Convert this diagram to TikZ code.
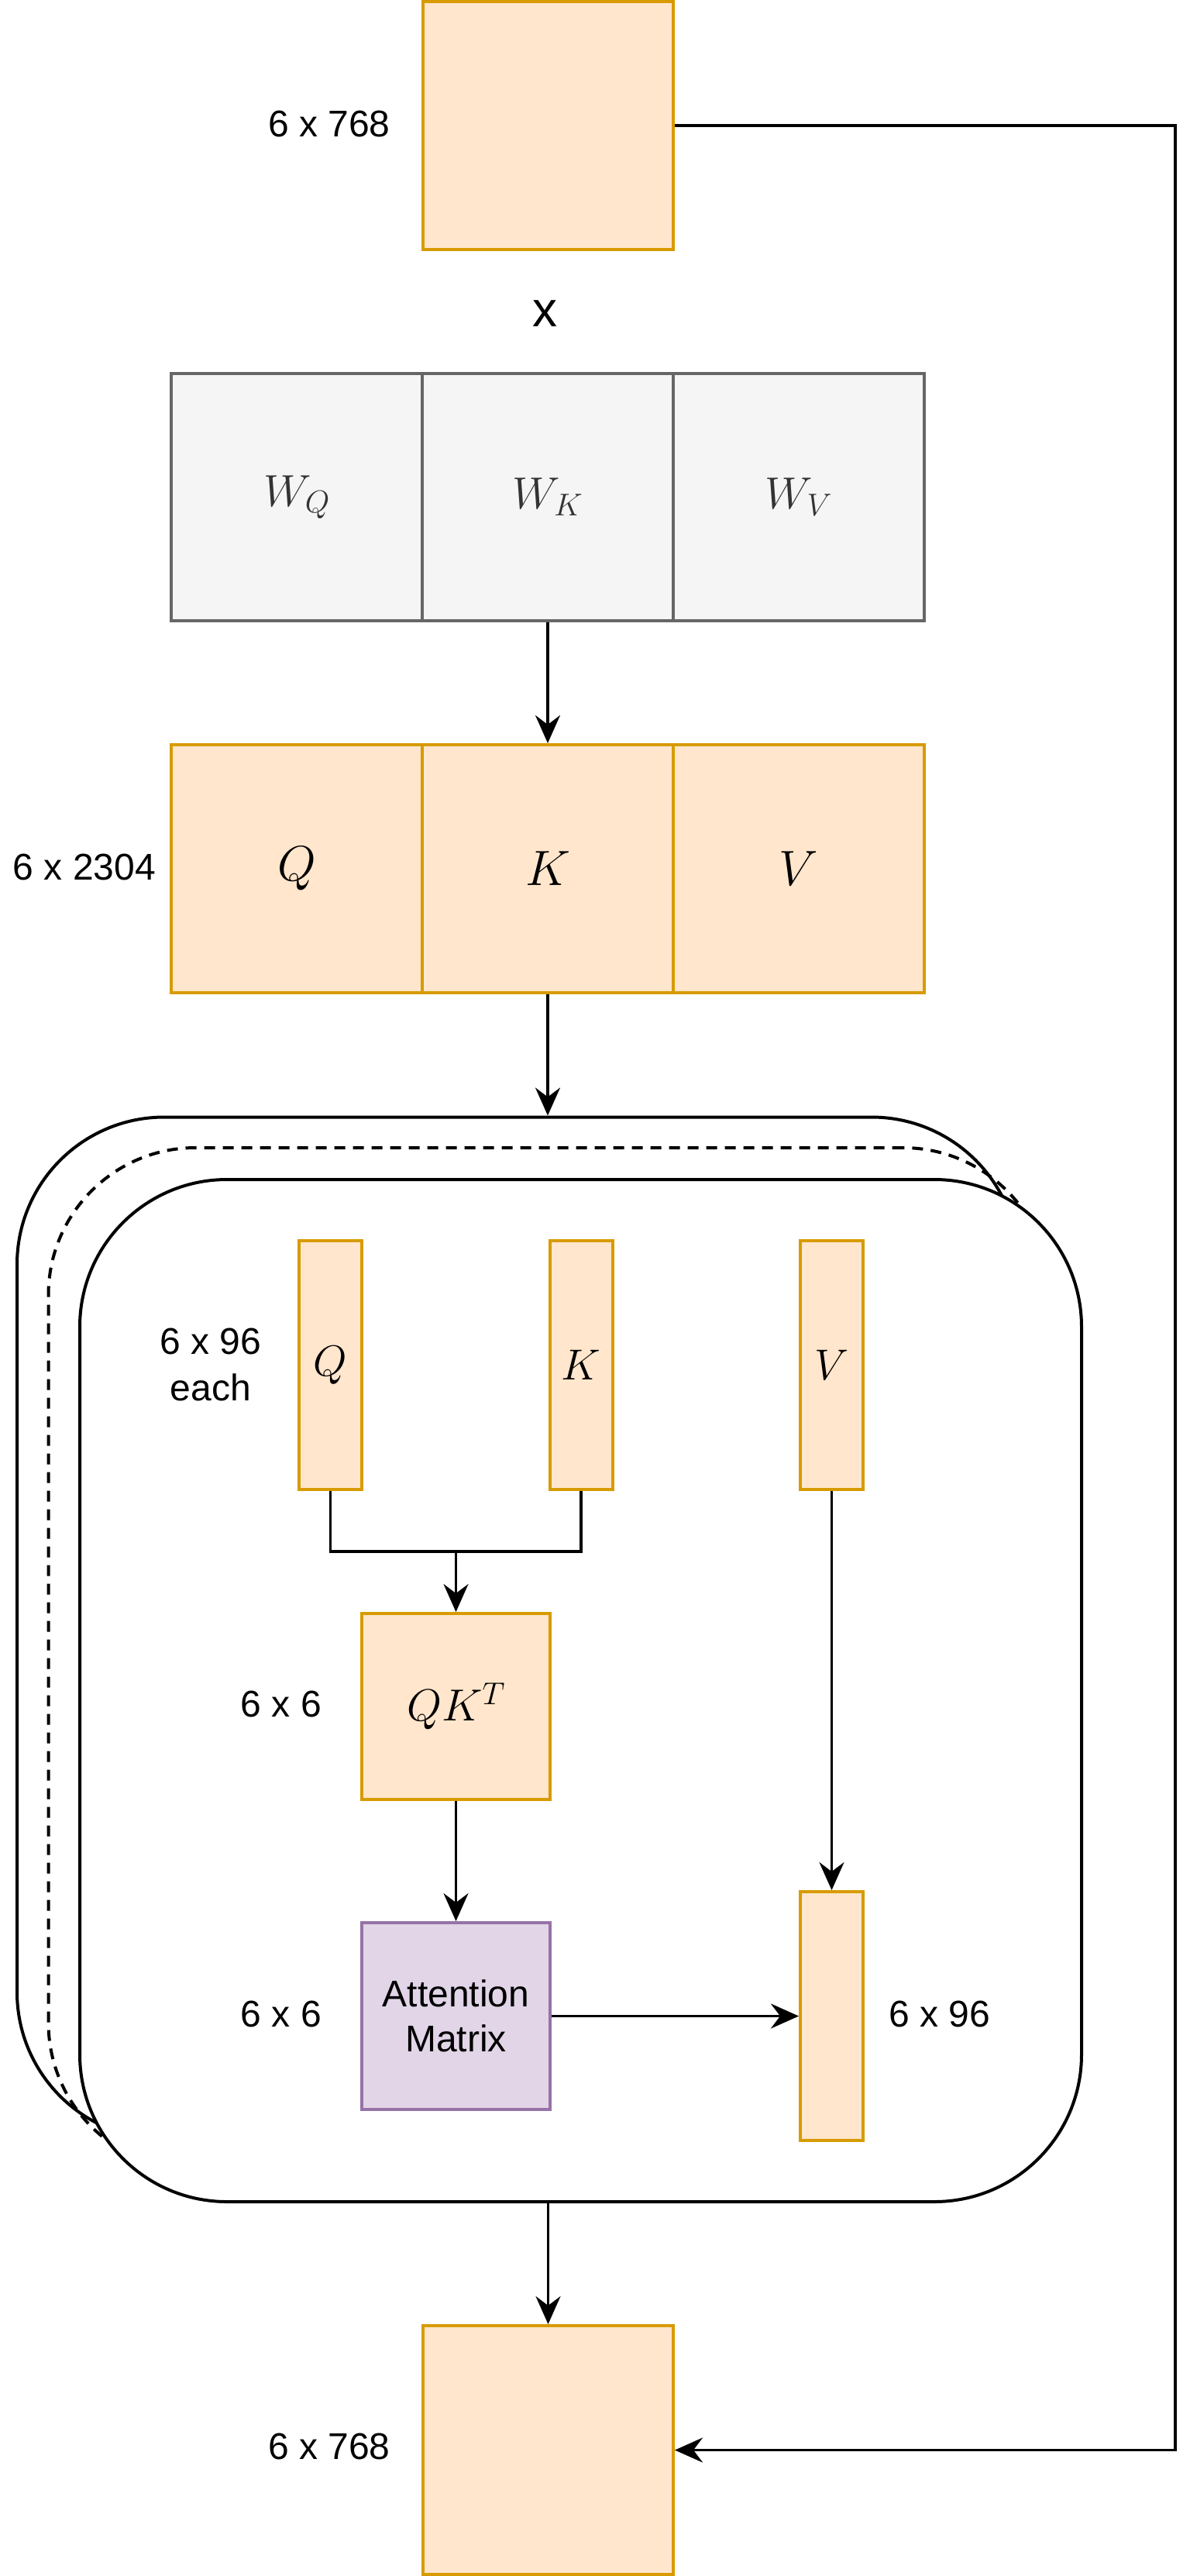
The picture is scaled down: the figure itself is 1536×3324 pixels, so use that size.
\RequirePackage{fix-cm}
\documentclass[tikz,border=0pt]{standalone}
\usepackage{fontspec}
\setmainfont{Liberation Sans}
\usetikzlibrary{arrows.meta}

\definecolor{orangeF}{HTML}{FFE6CC}
\definecolor{orangeS}{HTML}{D79B00}
\definecolor{grayF}{HTML}{F5F5F5}
\definecolor{grayS}{HTML}{666666}
\definecolor{purpleF}{HTML}{E1D5E7}
\definecolor{purpleS}{HTML}{9673A6}
\definecolor{wtext}{HTML}{333333}

\tikzset{
  cell/.style={draw, line width=4pt, inner sep=0pt, anchor=center},
  orangecell/.style={cell, draw=orangeS, fill=orangeF},
  graycell/.style={cell, draw=grayS, fill=grayF, text=wtext},
  purplecell/.style={cell, draw=purpleS, fill=purpleF, align=center,
    font=\fontsize{48}{58}\selectfont},
  dimlabel/.style={font=\fontsize{48}{60}\selectfont, align=center, inner sep=0pt},
  conn/.style={line width=3.5pt, draw=black},
  arrowc/.style={conn, -{Stealth[length=36pt, width=32pt, inset=12pt]}},
  layer/.style={draw=black, line width=4pt, rounded corners=190pt,
    minimum width=1293pt, minimum height=1319pt, inner sep=0pt, anchor=center},
}

\begin{document}
\begin{tikzpicture}[x=1pt, y=-1pt]
\useasboundingbox (0,0) rectangle (1536,3324);

% input embeddings
\node[orangecell, minimum width=323pt, minimum height=320pt] (inp) at (707.5,162) {};
\node[dimlabel] (linp) at (425,160) {6 x 768};
\node[font=\fontsize{64}{72}\selectfont, inner sep=0pt] (times) at (703,405) {x};

% projection weights
\node[graycell, minimum width=324pt, minimum height=319pt] (wq) at (383,641.5)
  {\fontsize{58}{64}\selectfont $W_Q$};
\node[graycell, minimum width=324pt, minimum height=319pt] (wk) at (707,641.5)
  {\fontsize{58}{64}\selectfont $W_K$};
\node[graycell, minimum width=324pt, minimum height=319pt] (wv) at (1031,641.5)
  {\fontsize{58}{64}\selectfont $W_V$};

% stacked Q K V
\node[orangecell, minimum width=324pt, minimum height=320pt] (qq) at (383,1121)
  {\fontsize{64}{72}\selectfont $Q$};
\node[orangecell, minimum width=324pt, minimum height=320pt] (kk) at (707,1121)
  {\fontsize{64}{72}\selectfont $K$};
\node[orangecell, minimum width=324pt, minimum height=320pt] (vv) at (1031,1121)
  {\fontsize{64}{72}\selectfont $V$};
\node[dimlabel] (lqkv) at (109,1119) {6 x 2304};

% attention heads (stacked layers)
\node[layer] (outerc) at (668.5,2101) {};
\node[layer, dash pattern=on 14pt off 10pt] (midc) at (709,2140.5) {};
\node[layer, fill=white] (innerc) at (749.5,2181.5) {};

% per-head slices
\node[orangecell, minimum width=81pt, minimum height=321pt] (sq) at (426.5,1761.5)
  {\fontsize{56}{64}\selectfont $Q$};
\node[orangecell, minimum width=81pt, minimum height=321pt] (sk) at (750,1761.5)
  {\fontsize{56}{64}\selectfont $K$};
\node[orangecell, minimum width=81pt, minimum height=321pt] (sv) at (1073.5,1761.5)
  {\fontsize{56}{64}\selectfont $V$};
\node[dimlabel] (lslice) at (272,1761) {6 x 96\\each};

% scores and attention matrix
\node[orangecell, minimum width=243pt, minimum height=240pt] (qkt) at (588.5,2202)
  {\fontsize{58}{64}\selectfont $QK^T$};
\node[dimlabel] (lqkt) at (363,2199) {6 x 6};
\node[purplecell, minimum width=243pt, minimum height=241pt] (att) at (588.5,2601.5)
  {Attention\\Matrix};
\node[dimlabel] (latt) at (363,2599) {6 x 6};

% head output
\node[orangecell, minimum width=81pt, minimum height=321pt] (hout) at (1073.5,2601.5) {};
\node[dimlabel] (lhout) at (1213,2599) {6 x 96};

% block output
\node[orangecell, minimum width=323pt, minimum height=321pt] (out) at (707.5,3161.5) {};
\node[dimlabel] (lout) at (425,3157) {6 x 768};

% connectors
\draw[arrowc] (wk.south) -- (qq.north -| wk.south);
\draw[arrowc] (kk.south) -- (kk.south |- outerc.north);
\coordinate (join) at (588.5,2002);
\draw[conn] (sq.south) |- (join) -| (sk.south);
\draw[arrowc] (join) -- (qkt.north);
\draw[arrowc] (qkt.south) -- (att.north);
\draw[arrowc] (sv.south) -- (hout.north);
\draw[arrowc] (att.east) -- (hout.west);
\draw[arrowc] (innerc.south -| out.north) -- (out.north);

% residual connection
\coordinate (rtop) at (1517,162);
\coordinate (rbot) at (1517,3161.5);
\draw[arrowc] (inp.east) -- (rtop) -- (rbot) -- (out.east);
\end{tikzpicture}
\end{document}
